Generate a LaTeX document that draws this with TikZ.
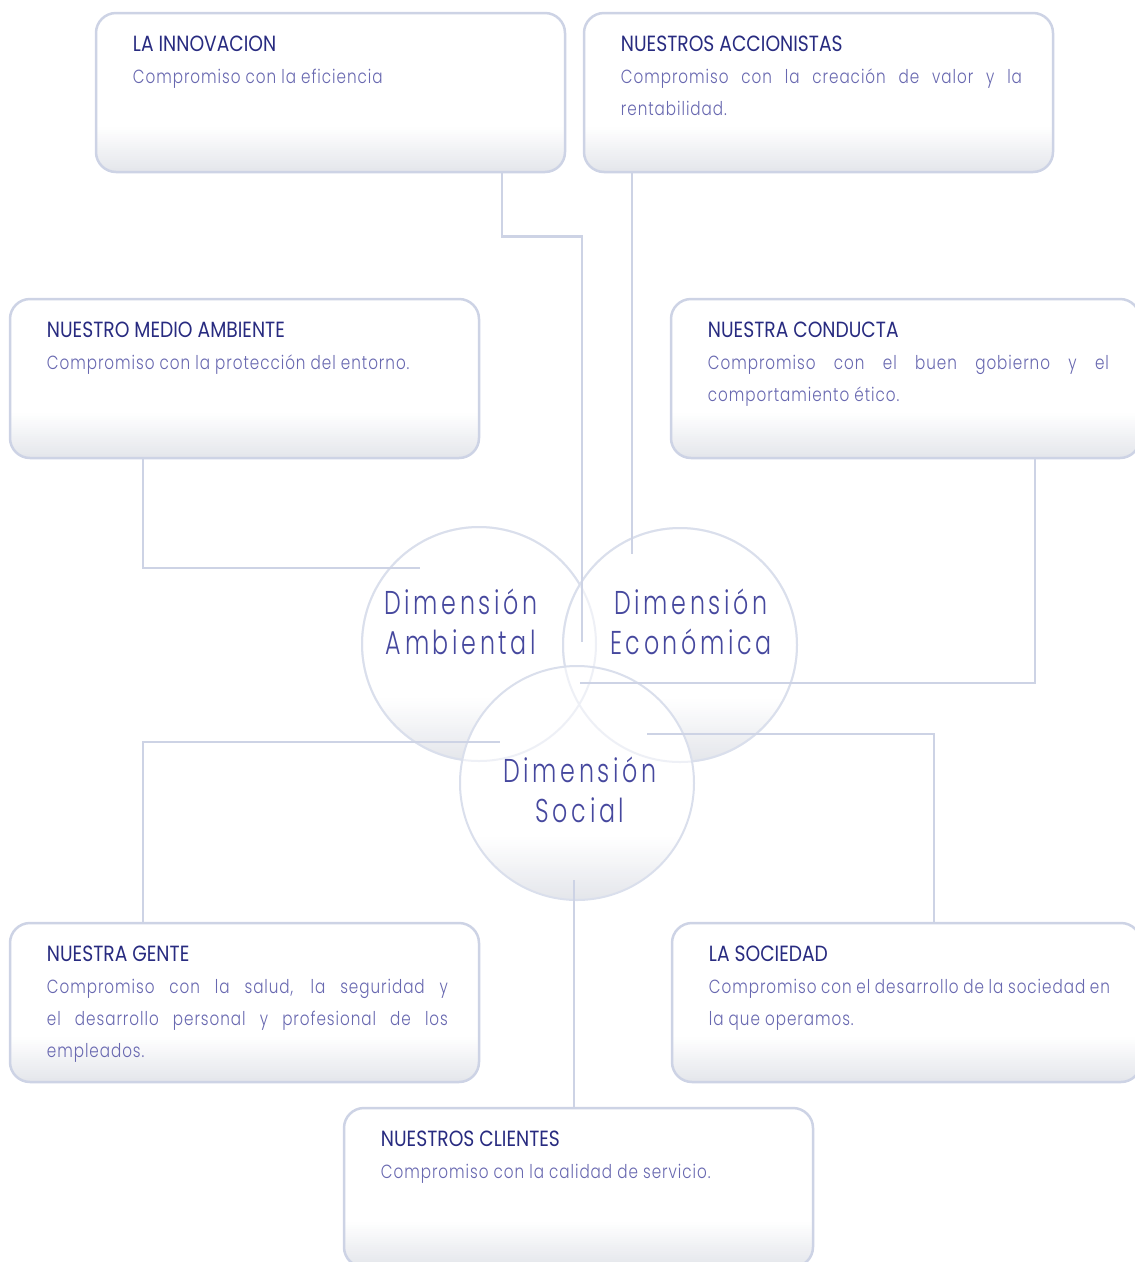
\documentclass[tikz,border=0pt]{standalone}
\usepackage{fontspec}
\setmainfont{Poppins}
\usetikzlibrary{
		calc,
		positioning
	}
\definecolor{tituloazul}{RGB}{40,43,128}
\definecolor{textoazul}{RGB}{104,104,176}
\definecolor{dimazul}{RGB}{70,72,158}
\definecolor{lineagris}{RGB}{205,211,229}
\definecolor{bordecirc}{RGB}{218,223,236}
\definecolor{sombra}{RGB}{228,230,235}
\newfontfamily\titulofont{Poppins}[FakeStretch=0.85]
\newfontfamily\textofont{Poppins Light}[FakeStretch=0.8, LetterSpace=5]
\newfontfamily\dimfont{Poppins Light}[FakeStretch=0.72, LetterSpace=11]
\newcommand{\Degradado}[1]{%
	\foreach \i in {0,...,#1}{%
		\pgfmathtruncatemacro{\pct}{100-100*\i/(#1+1)}%
		\fill[sharp corners, sombra!\pct!white] ([yshift=2*\i pt]path picture bounding box.south west) rectangle ([yshift=2*\i pt+2.6pt]path picture bounding box.south east);
	}}

\begin{document}
\begin{tikzpicture}[x=1pt, y=-1pt,
					caja/.style={draw=lineagris, line width=2.5pt, rounded corners=20pt, minimum width=469pt, minimum height=159pt, inner sep=0pt, fill=white,
						path picture={\Degradado{21}}},
					circ/.style={circle, draw=bordecirc, line width=2pt, minimum size=234pt, inner sep=0pt, fill=white,
						path picture={\Degradado{30}}},
					titulo/.style={inner sep=0pt, anchor=base west, font=\titulofont\fontsize{22}{26}\selectfont, text=tituloazul},
					cuerpo/.style={inner sep=0pt, anchor=base west, text width=401pt, align=justify, font=\textofont\fontsize{19}{32}\selectfont, text=textoazul},
					dimtexto/.style={anchor=base, align=center, inner sep=0pt, font=\dimfont\fontsize{33}{40}\selectfont, text=dimazul},
					linea/.style={draw=lineagris, line width=2.5pt}]
		\useasboundingbox (0,0) rectangle (1135,1262);
		\clip (0,0) rectangle (1135,1262);
		\node[circ] (amb) at (479,644) {};
		\node[circ] (eco) at (680,645) {};
		\node[circ] (soc) at (577,783) {};
		\draw[bordecirc, line width=2pt, draw opacity=0.45] (amb.center) circle[radius=117pt] (eco.center) circle[radius=117pt];
		\node[dimtexto] (ambtxt) at ([xshift=-18pt, yshift=-10pt]amb.center) {Dimensión\\Ambiental};
		\node[dimtexto] (ecotxt) at ([xshift=11pt, yshift=-9pt]eco.center) {Dimensión\\Económica};
		\node[dimtexto] (soctxt) at ([xshift=3pt, yshift=-39pt]soc.center) {Dimensión\\Social};
		\node[caja] (innov) at (330.5,92.5) {};
		\node[titulo] (innovtit) at ([xshift=38pt, yshift=-40pt]innov.north west) {LA INNOVACION};
		\node[cuerpo, below=32pt of innovtit.base west, anchor=base west] (innovtxt) {Compromiso con la eficiencia};
		\node[caja] (accion) at (818.5,92.5) {};
		\node[titulo] (acciontit) at ([xshift=38pt, yshift=-40pt]accion.north west) {NUESTROS ACCIONISTAS};
		\node[cuerpo, below=32pt of acciontit.base west, anchor=base west] (acciontxt) {Compromiso con la creación de valor y la\linebreak rentabilidad.};
		\node[caja] (medio) at (244.5,378.5) {};
		\node[titulo] (mediotit) at ([xshift=38pt, yshift=-40pt]medio.north west) {NUESTRO MEDIO AMBIENTE};
		\node[cuerpo, below=32pt of mediotit.base west, anchor=base west] (mediotxt) {Compromiso con la protección del entorno.};
		\node[caja] (conducta) at (905.5,378.5) {};
		\node[titulo] (conductatit) at ([xshift=38pt, yshift=-40pt]conducta.north west) {NUESTRA CONDUCTA};
		\node[cuerpo, below=32pt of conductatit.base west, anchor=base west] (conductatxt) {Compromiso con el buen gobierno y el\linebreak comportamiento ético.};
		\node[caja] (gente) at (244.5,1002.5) {};
		\node[titulo] (gentetit) at ([xshift=38pt, yshift=-40pt]gente.north west) {NUESTRA GENTE};
		\node[cuerpo, below=32pt of gentetit.base west, anchor=base west] (gentetxt) {Compromiso con la salud, la seguridad y\linebreak el desarrollo personal y profesional de los\linebreak empleados.};
		\node[caja] (sociedad) at (906.5,1002.5) {};
		\node[titulo] (sociedadtit) at ([xshift=38pt, yshift=-40pt]sociedad.north west) {LA SOCIEDAD};
		\node[cuerpo, below=32pt of sociedadtit.base west, anchor=base west] (sociedadtxt) {Compromiso con el desarrollo de la sociedad en\linebreak la que operamos.};
		\node[caja] (clientes) at (578.5,1187.5) {};
		\node[titulo] (clientestit) at ([xshift=38pt, yshift=-40pt]clientes.north west) {NUESTROS CLIENTES};
		\node[cuerpo, below=32pt of clientestit.base west, anchor=base west] (clientestxt) {Compromiso con la calidad de servicio.};
		\coordinate (innovfin) at (582,642);
		\coordinate (accionfin) at (632,554);
		\coordinate (mediofin) at (420,568);
		\coordinate (conductafin) at (580,683);
		\coordinate (gentefin) at (500,742);
		\coordinate (sociedadfin) at (647,734);
		\coordinate (clientesfin) at (574,880);
		\draw[linea] ([xshift=171.5pt]innov.south) -- ++(0,63) -| (innovfin);
		\draw[linea] ([xshift=-186.5pt]accion.south) -- (accionfin);
		\draw[linea] ([xshift=-101.5pt]medio.south) |- (mediofin);
		\draw[linea] ([xshift=129.5pt]conducta.south) |- (conductafin);
		\draw[linea] ([xshift=-101.5pt]gente.north) |- (gentefin);
		\draw[linea] ([xshift=27.5pt]sociedad.north) |- (sociedadfin);
		\draw[linea] ([xshift=-4.5pt]clientes.north) -- (clientesfin);
	\end{tikzpicture}
\end{document}
